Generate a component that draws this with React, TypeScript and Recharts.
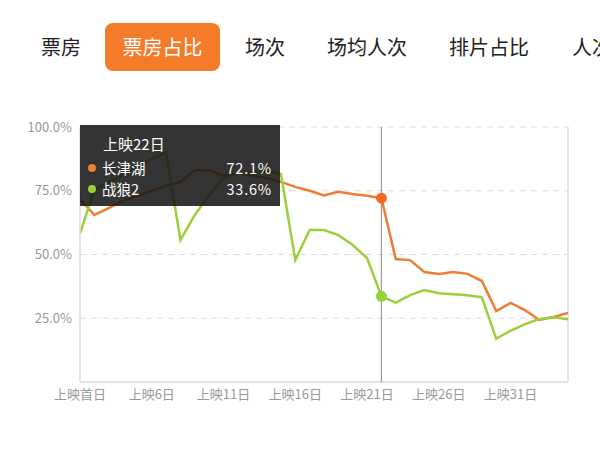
import React from 'react';
import { LineChart, Line, XAxis, YAxis, CartesianGrid, Tooltip, ReferenceLine } from 'recharts';

const days: string[] = [
  '上映首日', '上映2日', '上映3日', '上映4日', '上映5日', '上映6日', '上映7日', '上映8日', '上映9日', '上映10日',
  '上映11日', '上映12日', '上映13日', '上映14日', '上映15日', '上映16日', '上映17日', '上映18日', '上映19日', '上映20日',
  '上映21日', '上映22日', '上映23日', '上映24日', '上映25日', '上映26日', '上映27日', '上映28日', '上映29日', '上映30日',
  '上映31日', '上映32日', '上映33日', '上映34日', '上映35日',
];

const changjinhu: number[] = [
  71.8, 65.5, 68.2, 71.0, 73.0, 75.0, 77.0, 78.4, 83.0, 83.0,
  80.8, 82.0, 81.0, 80.0, 78.5, 76.5, 75.0, 73.2, 74.6, 73.7,
  73.0, 72.1, 48.2, 47.8, 43.1, 42.4, 43.1, 42.4, 39.6, 27.8,
  31.0, 28.2, 24.3, 25.5, 27.1,
];

const zhanlang2: number[] = [
  58.3, 75.3, 78.4, 81.2, 84.3, 87.5, 90.0, 55.7, 65.5, 73.3,
  80.0, 82.0, 82.4, 82.7, 81.6, 47.8, 59.6, 59.6, 57.6, 53.7,
  48.6, 33.6, 31.1, 34.1, 36.1, 34.8, 34.4, 34.0, 33.2, 17.0,
  20.1, 22.7, 24.7, 25.4, 24.6,
];

const seriesNames = ['长津湖', '战狼2'];
const yTicks = [25, 50, 75, 100];
const tabs = ['票房', '票房占比', '场次', '场均人次', '排片占比', '人次占比'];

const data = days.map((d, i) => ({ day: d, a: changjinhu[i], b: zhanlang2[i] }));

const ORANGE = '#EE7D33';
const GREEN = '#9CCF3C';
const FONT = '"Noto Sans CJK SC", "Noto Sans", sans-serif';

const TipContent = (props: any) => {
  const { active, payload, label } = props;
  if (!active || !payload || !payload.length) return null;
  return (
    <div
      style={{
        width: 200,
        height: 81,
        background: 'rgba(22,22,22,0.87)',
        color: '#fff',
        fontFamily: FONT,
        fontSize: 14.5,
        boxSizing: 'border-box',
        padding: '7px 8px 0 12px',
        position: 'relative',
      }}
    >
      <div style={{ paddingLeft: 11, height: 25, lineHeight: '24px', fontSize: 15 }}>{label}</div>
      {payload.map((p: any) => (
        <div key={p.dataKey} style={{ display: 'flex', alignItems: 'center', height: 21, lineHeight: '21px' }}>
          <span
            style={{ width: 8, height: 8, borderRadius: 4, background: p.color, display: 'inline-block', marginRight: 6, marginLeft: -4 }}
          />
          <span style={{ flex: 1 }}>{p.name}</span>
          <span style={{ letterSpacing: 0.8 }}>{Number(p.value).toFixed(1)}%</span>
        </div>
      ))}
    </div>
  );
};

const tabLeft = [41, 105, 245, 327, 449, 572];

export default function App() {
  return (
    <div style={{ position: 'absolute', left: 0, top: 0, width: 600, height: 453, overflow: 'hidden', background: '#fff', fontFamily: FONT }}>
      {tabs.map((t, i) =>
        i === 1 ? (
          <div
            key={t}
            style={{
              position: 'absolute', left: tabLeft[i], top: 23, width: 115, height: 48, borderRadius: 8,
              background: '#F47B2A', color: '#fff', fontSize: 20, lineHeight: '48px', textAlign: 'center',
            }}
          >
            {t}
          </div>
        ) : (
          <div
            key={t}
            style={{ position: 'absolute', left: tabLeft[i], top: 23, height: 48, lineHeight: '48px', fontSize: 20, color: '#222', whiteSpace: 'nowrap' }}
          >
            {t}
          </div>
        )
      )}
      <div style={{ position: 'absolute', left: 0, top: 0 }}>
        <LineChart width={600} height={453} data={data} margin={{ top: 127, right: 32, left: 0, bottom: 41 }}>
          <CartesianGrid vertical={false} stroke="#DCDCDC" strokeDasharray="6 5" />
          <XAxis
            dataKey="day"
            interval={4}
            tickLine={false}
            axisLine={{ stroke: '#DDDDDD', strokeWidth: 1.5 }}
            tick={{ fill: '#999', fontSize: 13, fontFamily: FONT }}
            height={30}
          />
          <YAxis
            domain={[0, 100]}
            ticks={yTicks}
            width={80}
            tickLine={false}
            axisLine={{ stroke: '#DDDDDD', strokeWidth: 1.5 }}
            tickFormatter={(v: number) => `${v.toFixed(1)}%`}
            tick={{ fill: '#999', fontSize: 13, fontFamily: FONT }}
          />
          <ReferenceLine x={days[days.length - 1]} stroke="#DDDDDD" strokeWidth={1.5} />
          <Tooltip
            defaultIndex={21}
            active={true}
            position={{ x: 80, y: 125 }}
            cursor={{ stroke: '#999', strokeWidth: 1.2 }}
            content={<TipContent />}
            isAnimationActive={false}
            wrapperStyle={{ zIndex: 5 }}
          />
          <Line
            type="linear"
            dataKey="a"
            name={seriesNames[0]}
            stroke={ORANGE}
            strokeWidth={2.5}
            dot={false}
            activeDot={{ r: 5.5, fill: '#F26A1E', stroke: 'none' }}
            isAnimationActive={false}
          />
          <Line
            type="linear"
            dataKey="b"
            name={seriesNames[1]}
            stroke={GREEN}
            strokeWidth={2.5}
            dot={false}
            activeDot={{ r: 5.5, fill: '#94D036', stroke: 'none' }}
            isAnimationActive={false}
          />
        </LineChart>
      </div>
    </div>
  );
}
